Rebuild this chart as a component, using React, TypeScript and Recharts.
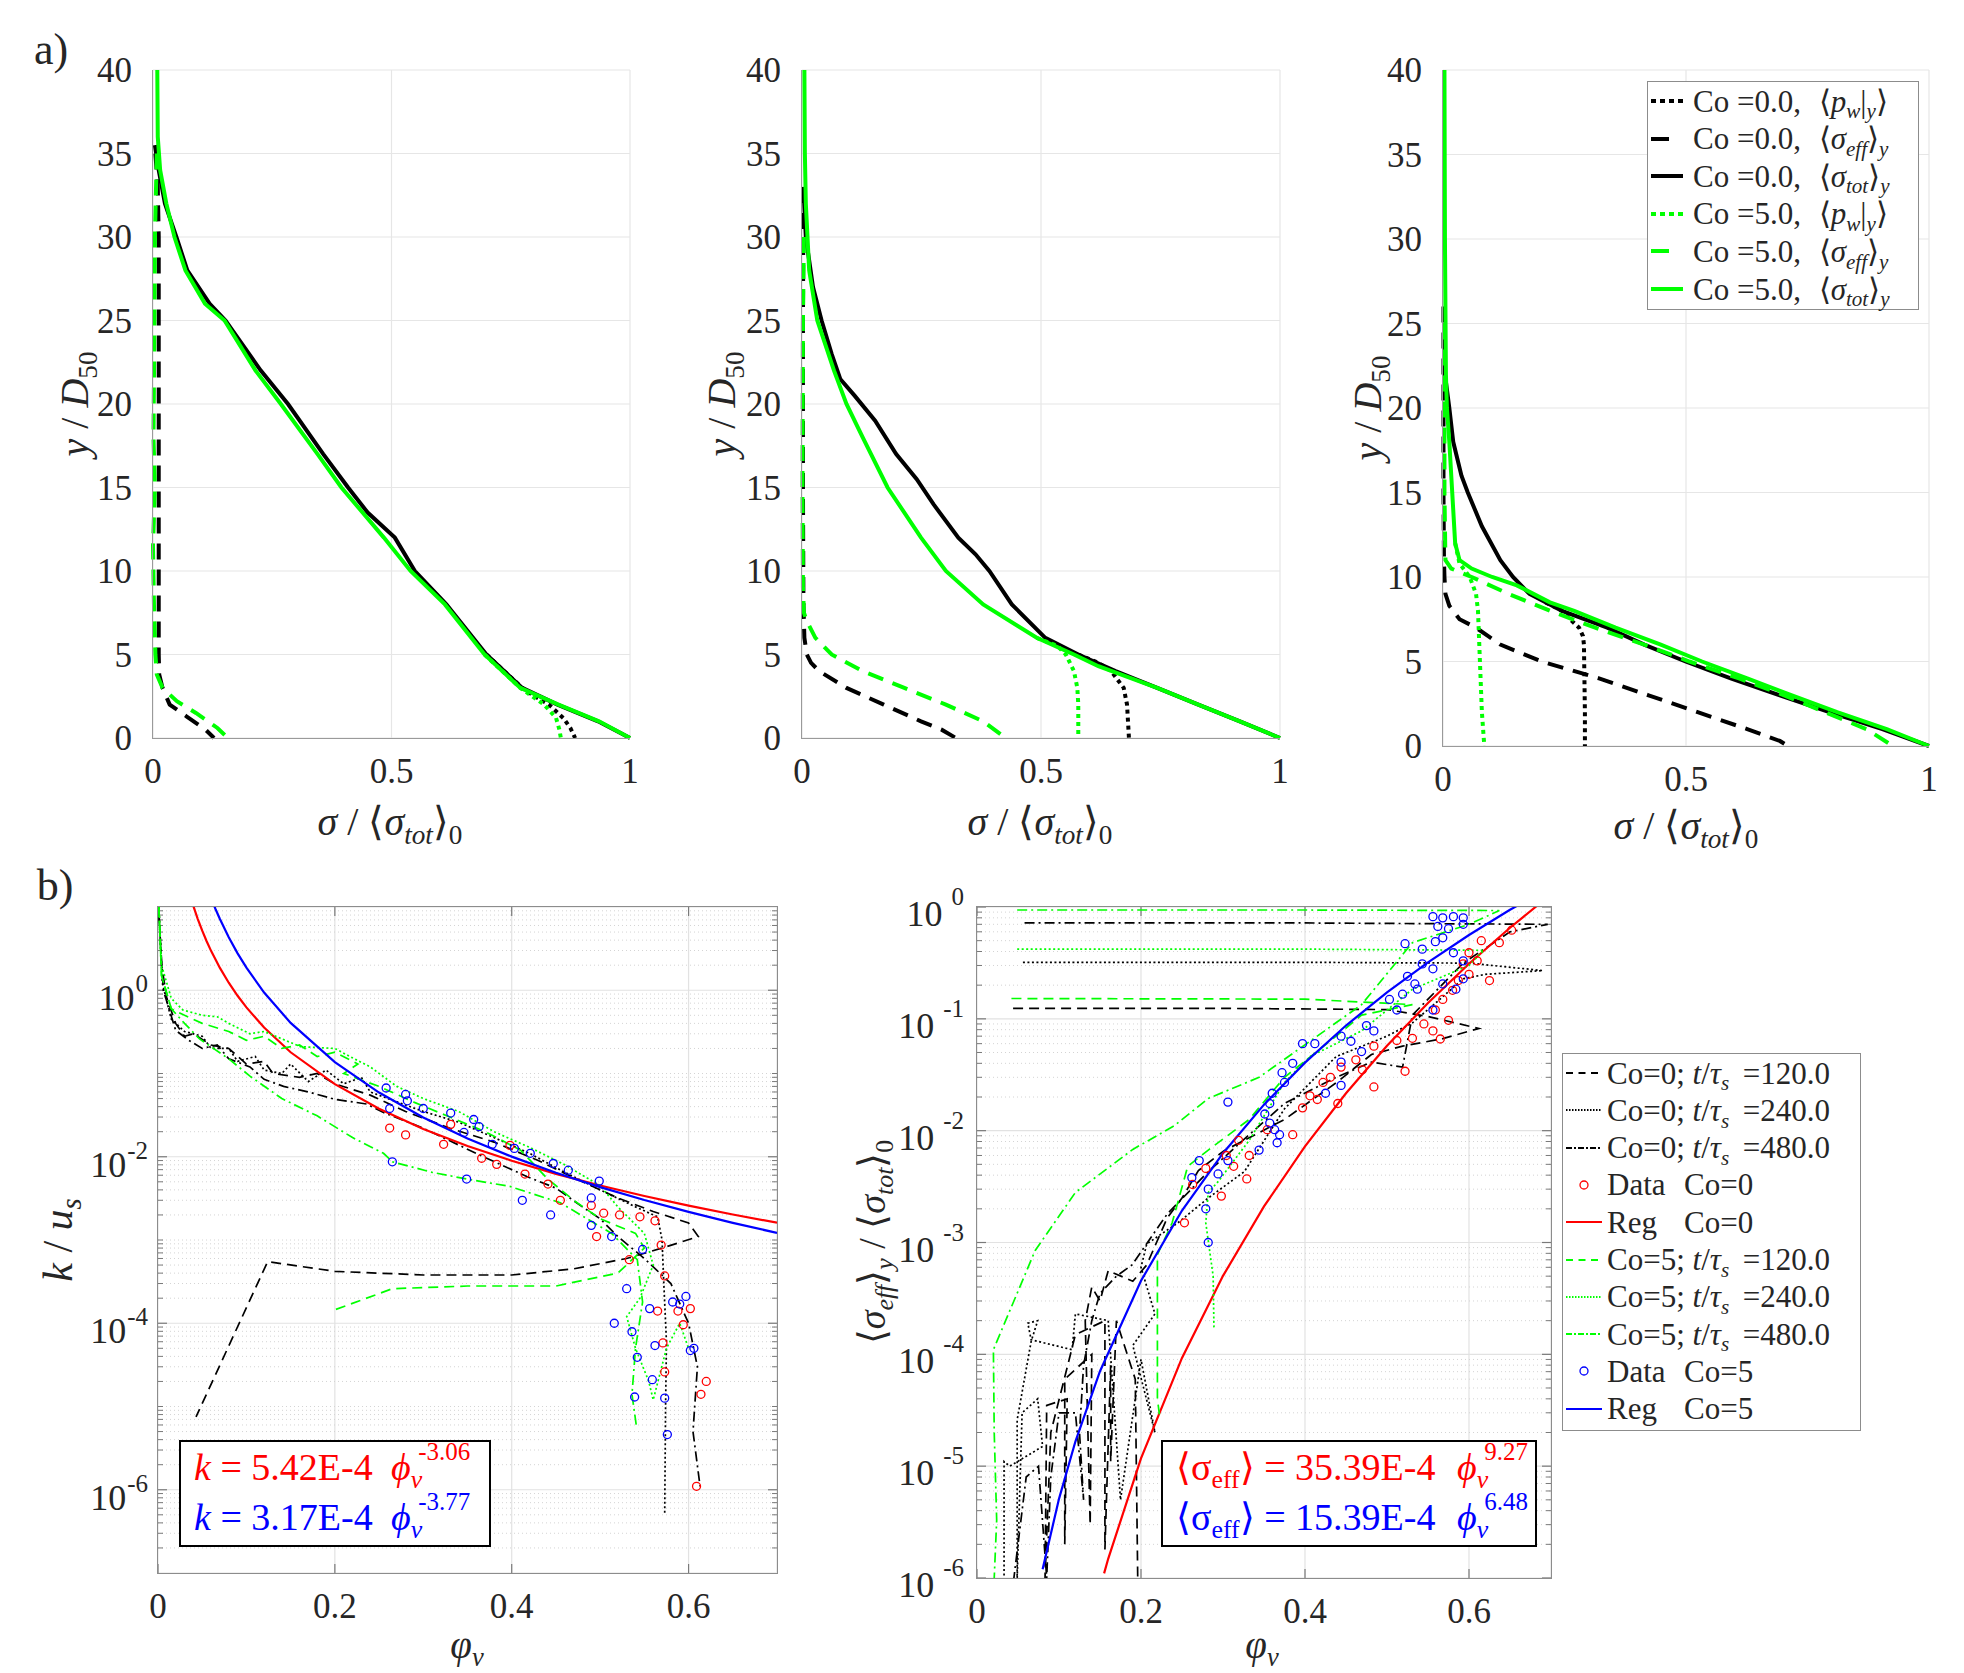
import React, { ReactNode } from "react";
import { LineChart, Line, XAxis, YAxis, CartesianGrid, ReferenceLine } from "recharts";

type Pt = [number, number];
type Box = { x: number; y: number; w: number; h: number };
type Curve = { pts: Pt[]; color: string; width: number; dash?: string; marker?: boolean };

const SERIF = '"Liberation Serif", "Times New Roman", serif';
const INK = "#262626";
const BLACK = "#000000";
const GREEN = "#00ff00";
const RED = "#ff0000";
const BLUE = "#0000ff";

// ---------- a) stress profiles, points are [sigma/<sigma_tot>_0, y/D50] ----------
const SIGMA_TICKS = [0, 0.5, 1];
const HEIGHT_TICKS = [0, 5, 10, 15, 20, 25, 30, 35, 40];

const a1Pw0: Pt[] = [[0.699, 5], [0.774, 3], [0.8, 2.5], [0.83, 2], [0.86, 1.2], [0.875, 0.6], [0.885, 0]];
const a1Eff0: Pt[] = [[0.005, 35], [0.01, 33], [0.012, 30], [0.012, 20], [0.012, 10], [0.012, 5], [0.013, 3.8], [0.02, 3], [0.035, 2], [0.07, 1.3], [0.11, 0.5], [0.128, 0]];
const a1Tot0: Pt[] = [[0.004, 35.5], [0.012, 34], [0.025, 32], [0.049, 30], [0.072, 28], [0.119, 26], [0.152, 25], [0.226, 22], [0.283, 20], [0.357, 17], [0.409, 15], [0.45, 13.5], [0.507, 12], [0.549, 10], [0.615, 8], [0.699, 5], [0.774, 3], [0.848, 2], [0.933, 1], [1.0, 0]];
const a1Pw5: Pt[] = [[0.695, 5], [0.77, 3], [0.795, 2.5], [0.82, 2], [0.845, 1.2], [0.852, 0.5], [0.855, 0]];
const a1Eff5: Pt[] = [[0.008, 35], [0.004, 30], [0.003, 25], [0.001, 18], [0.004, 15], [0.0, 11.5], [0.002, 8], [0.005, 5], [0.008, 3.8], [0.02, 3], [0.05, 2.2], [0.09, 1.5], [0.135, 0.6], [0.157, 0]];
const a1Tot5: Pt[] = [[0.009, 40], [0.01, 36], [0.015, 34], [0.028, 32], [0.045, 30], [0.068, 28], [0.109, 26], [0.15, 25], [0.215, 22], [0.268, 20], [0.345, 17], [0.395, 15], [0.484, 12], [0.54, 10], [0.612, 8], [0.695, 5], [0.77, 3], [0.85, 2], [0.935, 1], [1.0, 0]];

const a2Pw0: Pt[] = [[0.578, 5], [0.62, 4.5], [0.647, 4], [0.673, 3], [0.68, 2], [0.682, 1], [0.684, 0]];
const a2Eff0: Pt[] = [[0.003, 33], [0.002, 25], [0.002, 15], [0.003, 8], [0.005, 6], [0.01, 5], [0.019, 4.5], [0.036, 4], [0.093, 3], [0.171, 2], [0.249, 1], [0.292, 0.5], [0.322, 0]];
const a2Tot0: Pt[] = [[0.003, 33], [0.008, 30], [0.023, 27], [0.041, 25], [0.062, 23], [0.08, 21.5], [0.11, 20.5], [0.153, 19], [0.197, 17], [0.24, 15.5], [0.275, 14], [0.327, 12], [0.363, 11], [0.392, 10], [0.439, 8], [0.509, 6], [0.578, 5], [0.656, 4], [0.743, 3], [0.829, 2], [0.916, 1], [1.0, 0]];
const a2Pw5: Pt[] = [[0.491, 6], [0.535, 5.5], [0.552, 5], [0.569, 4], [0.576, 3], [0.578, 2], [0.578, 0]];
const a2Eff5: Pt[] = [[0.004, 30], [0.002, 25], [0.001, 15], [0.002, 9], [0.004, 7.5], [0.01, 7], [0.028, 6], [0.062, 5], [0.127, 4], [0.214, 3], [0.301, 2], [0.379, 1], [0.426, 0]];
const a2Tot5: Pt[] = [[0.005, 40], [0.006, 35], [0.008, 32], [0.015, 28], [0.032, 25], [0.067, 22], [0.093, 20], [0.127, 18], [0.179, 15], [0.249, 12], [0.301, 10], [0.379, 8], [0.491, 6], [0.569, 5], [0.62, 4.3], [0.743, 3], [0.829, 2], [0.916, 1], [1.0, 0]];

const a3Pw0: Pt[] = [[0.211, 8.5], [0.245, 8], [0.265, 7.4], [0.28, 7], [0.288, 6.5], [0.29, 6], [0.291, 4], [0.292, 2], [0.292, 0]];
const a3Eff0: Pt[] = [[0.001, 26], [0.001, 20], [0.001, 15], [0.002, 11], [0.003, 10], [0.005, 9], [0.013, 8.3], [0.034, 7.5], [0.068, 7], [0.093, 6.5], [0.118, 6], [0.203, 5], [0.321, 4], [0.423, 3], [0.524, 2], [0.626, 1], [0.693, 0.3], [0.71, 0]];
const a3Tot0: Pt[] = [[0.002, 25], [0.004, 22], [0.013, 20], [0.021, 18], [0.038, 16], [0.051, 15], [0.08, 13], [0.118, 11], [0.144, 10], [0.178, 9], [0.211, 8.5], [0.245, 8], [0.338, 7], [0.414, 6], [0.499, 5], [0.592, 4], [0.693, 3], [0.795, 2], [0.904, 1], [1.0, 0]];
const a3Pw5: Pt[] = [[0.025, 12], [0.034, 10.8], [0.055, 10], [0.068, 9], [0.072, 8], [0.076, 5], [0.08, 2], [0.085, 0]];
const a3Eff5: Pt[] = [[0.003, 25], [0.003, 20], [0.003, 15], [0.005, 11], [0.017, 10.5], [0.059, 10], [0.135, 9], [0.22, 8], [0.313, 7], [0.414, 6], [0.507, 5], [0.609, 4], [0.702, 3], [0.786, 2], [0.871, 1], [0.926, 0]];
const a3Tot5: Pt[] = [[0.003, 40], [0.004, 30], [0.006, 22], [0.008, 20], [0.013, 18], [0.019, 15], [0.025, 12], [0.034, 11], [0.059, 10.5], [0.101, 10], [0.152, 9.5], [0.186, 9], [0.22, 8.5], [0.27, 8], [0.355, 7], [0.448, 6], [0.533, 5], [0.626, 4], [0.718, 3], [0.811, 2], [0.913, 1], [1.0, 0]];

// ---------- b) left: k/u_s against phi_v ----------
const PHI_TICKS = [0, 0.2, 0.4, 0.6];
const K_TICKS = [1e-6, 1e-4, 1e-2, 1];

const kCo0t120: Pt[] = [[0.001, 9], [0.004, 2], [0.01, 0.8], [0.02, 0.4], [0.03, 0.28], [0.04, 0.3], [0.06, 0.22], [0.08, 0.2], [0.1, 0.13], [0.12, 0.14], [0.13, 0.1], [0.16, 0.09], [0.18, 0.1], [0.2, 0.075], [0.24, 0.055], [0.28, 0.035], [0.33, 0.022], [0.38, 0.015], [0.43, 0.009], [0.48, 0.005], [0.52, 0.0032], [0.56, 0.0022], [0.6, 0.0016], [0.611, 0.0011], [0.57, 0.0008], [0.53, 0.0006], [0.47, 0.00045], [0.4, 0.00038], [0.3, 0.00038], [0.2, 0.00042], [0.124, 0.00055], [0.043, 0.0000075]];
const kCo0t240: Pt[] = [[0.001, 10], [0.005, 1.2], [0.015, 0.45], [0.03, 0.32], [0.05, 0.28], [0.06, 0.2], [0.08, 0.2], [0.09, 0.14], [0.11, 0.16], [0.12, 0.11], [0.14, 0.1], [0.15, 0.13], [0.17, 0.08], [0.19, 0.11], [0.21, 0.075], [0.23, 0.09], [0.24, 0.06], [0.26, 0.05], [0.3, 0.035], [0.34, 0.026], [0.38, 0.017], [0.42, 0.011], [0.46, 0.0065], [0.5, 0.004], [0.54, 0.0025], [0.565, 0.0019], [0.57, 0.001], [0.572, 0.0003], [0.575, 0.00006], [0.574, 0.00001], [0.573, 0.0000005]];
const kCo0t480: Pt[] = [[0.001, 8], [0.006, 1], [0.02, 0.33], [0.035, 0.25], [0.05, 0.2], [0.067, 0.22], [0.08, 0.15], [0.104, 0.12], [0.12, 0.085], [0.142, 0.07], [0.17, 0.06], [0.2, 0.049], [0.236, 0.043], [0.255, 0.034], [0.3, 0.022], [0.368, 0.01], [0.417, 0.0058], [0.45, 0.0042], [0.48, 0.0025], [0.5, 0.0018], [0.52, 0.0011], [0.55, 0.0006], [0.58, 0.0003], [0.6, 0.0001], [0.61, 0.00003], [0.605, 0.000005], [0.613, 0.0000011]];
const kCo5t120: Pt[] = [[0.001, 10], [0.004, 1.5], [0.015, 0.6], [0.03, 0.5], [0.05, 0.4], [0.08, 0.32], [0.1, 0.25], [0.12, 0.28], [0.14, 0.2], [0.16, 0.22], [0.18, 0.16], [0.2, 0.18], [0.226, 0.13], [0.21, 0.1], [0.25, 0.07], [0.29, 0.045], [0.33, 0.03], [0.37, 0.02], [0.41, 0.012], [0.44, 0.0055], [0.47, 0.003], [0.5, 0.0018], [0.54, 0.0012], [0.55, 0.0008], [0.52, 0.0004], [0.45, 0.00028], [0.35, 0.00028], [0.265, 0.00026], [0.196, 0.00014]];
const kCo5t240: Pt[] = [[0.001, 10], [0.004, 2], [0.015, 0.8], [0.028, 0.58], [0.05, 0.5], [0.067, 0.48], [0.08, 0.4], [0.104, 0.3], [0.12, 0.32], [0.161, 0.21], [0.2, 0.2], [0.217, 0.16], [0.24, 0.12], [0.27, 0.07], [0.3, 0.05], [0.34, 0.035], [0.38, 0.02], [0.42, 0.013], [0.46, 0.008], [0.5, 0.0045], [0.52, 0.0025], [0.55, 0.0012], [0.56, 0.0005], [0.545, 0.0002], [0.53, 0.00012], [0.54, 0.00005], [0.555, 0.00002], [0.56, 0.000012], [0.575, 0.00005], [0.59, 0.0001], [0.6, 0.00005]];
const kCo5t480: Pt[] = [[0.001, 10], [0.004, 1.5], [0.015, 0.6], [0.03, 0.4], [0.047, 0.26], [0.08, 0.15], [0.104, 0.093], [0.14, 0.05], [0.18, 0.031], [0.22, 0.017], [0.255, 0.011], [0.265, 0.0087], [0.31, 0.0065], [0.349, 0.0054], [0.398, 0.0044], [0.455, 0.0028], [0.513, 0.0012], [0.542, 0.00058], [0.548, 0.00018], [0.54, 0.00005], [0.536, 0.000014], [0.541, 0.0000058]];
const kDataCo0: Pt[] = [[0.262, 0.0221], [0.28, 0.0183], [0.323, 0.0141], [0.366, 0.0096], [0.383, 0.0081], [0.415, 0.0062], [0.441, 0.0047], [0.455, 0.003], [0.49, 0.0026], [0.504, 0.0021], [0.522, 0.002], [0.545, 0.0019], [0.562, 0.0017], [0.569, 0.00087], [0.573, 0.00037], [0.565, 0.00014], [0.571, 0.000058], [0.573, 0.000026], [0.588, 0.00014], [0.602, 0.00015], [0.614, 0.000014], [0.609, 0.0000011], [0.62, 0.00002], [0.496, 0.0011], [0.533, 0.00058], [0.594, 0.000096], [0.331, 0.0245], [0.398, 0.0137]];
const kDataCo5: Pt[] = [[0.258, 0.067], [0.28, 0.056], [0.282, 0.047], [0.3, 0.038], [0.262, 0.038], [0.331, 0.0335], [0.357, 0.028], [0.363, 0.023], [0.346, 0.0196], [0.378, 0.0141], [0.403, 0.0126], [0.421, 0.011], [0.447, 0.0083], [0.464, 0.0069], [0.499, 0.0051], [0.412, 0.003], [0.444, 0.002], [0.49, 0.0015], [0.513, 0.0011], [0.548, 0.00077], [0.516, 0.0001], [0.536, 0.000079], [0.542, 0.000039], [0.539, 0.000013], [0.559, 0.000021], [0.562, 0.000054], [0.573, 0.0000126], [0.576, 0.0000046], [0.582, 0.00018], [0.597, 0.00021], [0.602, 0.000047], [0.556, 0.00015], [0.265, 0.0087], [0.349, 0.0054], [0.53, 0.00026], [0.49, 0.0032], [0.59, 0.00017], [0.606, 0.00005]];
// fits: k = 5.42E-4 phi^-3.06 (Co=0) and k = 3.17E-4 phi^-3.77 (Co=5)
const kRegCo0: Pt[] = [[0.04, 10.27], [0.045, 7.165], [0.05, 5.19], [0.055, 3.877], [0.06, 2.971], [0.07, 1.854], [0.08, 1.232], [0.09, 0.859], [0.1, 0.6224], [0.12, 0.3563], [0.15, 0.1799], [0.2, 0.07461], [0.25, 0.0377], [0.3, 0.02158], [0.35, 0.01346], [0.4, 0.008947], [0.45, 0.006236], [0.5, 0.004518], [0.55, 0.003375], [0.6, 0.002586], [0.65, 0.002025], [0.7, 0.001614]];
const kRegCo5: Pt[] = [[0.06, 12.81], [0.065, 9.47], [0.07, 7.164], [0.08, 4.329], [0.09, 2.777], [0.1, 1.867], [0.12, 0.9388], [0.15, 0.4048], [0.2, 0.1368], [0.25, 0.05899], [0.3, 0.02968], [0.35, 0.0166], [0.4, 0.01003], [0.45, 0.00643], [0.5, 0.004322], [0.55, 0.003018], [0.6, 0.002174], [0.65, 0.001608], [0.7, 0.001216]];

// ---------- b) right: <sigma_eff>_y/<sigma_tot>_0 against phi_v ----------
const S_TICKS = [1e-6, 1e-5, 1e-4, 1e-3, 1e-2, 1e-1, 1];

const sCo0t120: Pt[] = [[0.044, 0.124], [0.3, 0.124], [0.5, 0.121], [0.55, 0.105], [0.612, 0.082], [0.568, 0.0665], [0.519, 0.057], [0.481, 0.048], [0.438, 0.0268], [0.375, 0.0126], [0.326, 0.0082], [0.301, 0.0066], [0.27, 0.0044], [0.25, 0.0025], [0.232, 0.00166], [0.207, 0.00063], [0.19, 0.00045], [0.16, 0.00056], [0.15, 0.0003], [0.14, 0.0004], [0.132, 0.0002], [0.138, 0.000003], [0.14, 0.0001], [0.107, 0.00006], [0.107, 0.000002], [0.11, 0.00004], [0.085, 0.000035], [0.083, 0.000001], [0.09, 0.00002], [0.12, 0.00015], [0.156, 0.0002], [0.156, 0.0000018], [0.163, 0.00008], [0.163, 0.000011], [0.17, 0.0002], [0.193, 0.00006], [0.196, 0.000001]];
const sCo0t240: Pt[] = [[0.056, 0.32], [0.4, 0.32], [0.6, 0.315], [0.69, 0.27], [0.62, 0.25], [0.593, 0.228], [0.56, 0.14], [0.531, 0.092], [0.5, 0.07], [0.438, 0.046], [0.375, 0.0157], [0.326, 0.0043], [0.282, 0.0025], [0.245, 0.0015], [0.207, 0.00097], [0.2, 0.0006], [0.217, 0.00023], [0.19, 0.00012], [0.217, 0.00002], [0.2, 0.00009], [0.175, 0.000005], [0.16, 0.0002], [0.12, 0.00023], [0.116, 0.00011], [0.066, 0.000135], [0.062, 0.00019], [0.074, 0.0002], [0.066, 0.00013], [0.049, 0.000026], [0.049, 0.000001], [0.055, 0.00003], [0.074, 0.00004], [0.08, 0.000015], [0.04, 0.00001], [0.033, 0.000011], [0.033, 0.000001]];
const sCo0t480: Pt[] = [[0.058, 0.72], [0.4, 0.72], [0.696, 0.7], [0.65, 0.6], [0.593, 0.315], [0.531, 0.108], [0.519, 0.037], [0.481, 0.041], [0.438, 0.03], [0.375, 0.0175], [0.332, 0.0092], [0.282, 0.0043], [0.232, 0.0018], [0.189, 0.00063], [0.17, 0.0005], [0.15, 0.00035], [0.14, 0.0002], [0.13, 0.00008], [0.125, 0.00002], [0.13, 0.000005], [0.12, 0.00003], [0.1, 0.00003], [0.09, 0.000008], [0.085, 0.000001], [0.075, 0.00001], [0.06, 0.000008], [0.05, 0.000002], [0.045, 0.000001]];
const sCo5t120: Pt[] = [[0.042, 0.152], [0.4, 0.15], [0.531, 0.134], [0.469, 0.108], [0.438, 0.07], [0.375, 0.03], [0.332, 0.0126], [0.282, 0.0067], [0.257, 0.0048], [0.238, 0.0015], [0.22, 0.00078], [0.22, 0.00004], [0.223, 0.000027]];
const sCo5t240: Pt[] = [[0.049, 0.42], [0.4, 0.42], [0.618, 0.41], [0.6, 0.3], [0.531, 0.184], [0.469, 0.078], [0.406, 0.046], [0.375, 0.027], [0.332, 0.0082], [0.294, 0.0035], [0.282, 0.0028], [0.279, 0.0015], [0.288, 0.0005], [0.289, 0.000166]];
const sCo5t480: Pt[] = [[0.049, 0.94], [0.4, 0.94], [0.637, 0.93], [0.6, 0.7], [0.531, 0.48], [0.469, 0.134], [0.406, 0.063], [0.344, 0.03], [0.282, 0.0194], [0.24, 0.011], [0.19, 0.0068], [0.12, 0.0028], [0.071, 0.00085], [0.045, 0.0003], [0.02, 0.00011], [0.021, 0.00002], [0.024, 0.0000033], [0.021, 0.000001]];
const sDataCo0: Pt[] = [[0.652, 0.62], [0.637, 0.48], [0.615, 0.5], [0.6, 0.39], [0.593, 0.31], [0.587, 0.22], [0.568, 0.149], [0.575, 0.097], [0.559, 0.12], [0.556, 0.078], [0.531, 0.067], [0.565, 0.066], [0.512, 0.064], [0.484, 0.057], [0.462, 0.043], [0.444, 0.037], [0.431, 0.03], [0.422, 0.027], [0.406, 0.0205], [0.397, 0.016], [0.385, 0.0092], [0.354, 0.0102], [0.332, 0.006], [0.329, 0.0037], [0.313, 0.0048], [0.304, 0.006], [0.319, 0.0082], [0.298, 0.0026], [0.263, 0.0033], [0.253, 0.0015], [0.279, 0.0046], [0.484, 0.0246], [0.522, 0.034], [0.6, 0.25], [0.58, 0.18], [0.545, 0.09], [0.47, 0.035], [0.415, 0.019], [0.44, 0.0175], [0.61, 0.33], [0.625, 0.22]];
const sDataCo5: Pt[] = [[0.556, 0.82], [0.568, 0.8], [0.581, 0.82], [0.593, 0.8], [0.562, 0.67], [0.575, 0.64], [0.593, 0.7], [0.522, 0.47], [0.559, 0.49], [0.568, 0.53], [0.543, 0.42], [0.581, 0.39], [0.593, 0.33], [0.543, 0.31], [0.556, 0.28], [0.525, 0.24], [0.534, 0.205], [0.537, 0.184], [0.519, 0.166], [0.503, 0.149], [0.512, 0.12], [0.556, 0.12], [0.568, 0.205], [0.584, 0.184], [0.593, 0.228], [0.475, 0.087], [0.484, 0.078], [0.456, 0.063], [0.469, 0.051], [0.444, 0.07], [0.412, 0.06], [0.444, 0.041], [0.397, 0.06], [0.385, 0.04], [0.372, 0.033], [0.375, 0.027], [0.36, 0.0216], [0.357, 0.0175], [0.351, 0.0141], [0.357, 0.0117], [0.363, 0.0102], [0.369, 0.0092], [0.366, 0.0078], [0.344, 0.0067], [0.306, 0.0054], [0.294, 0.0041], [0.271, 0.0054], [0.262, 0.0038], [0.282, 0.003], [0.279, 0.002], [0.282, 0.001], [0.425, 0.0216], [0.444, 0.0254], [0.306, 0.018]];
const sRegCo0: Pt[] = [[0.155, 0.0000011], [0.16, 0.000001485], [0.2, 0.00001175], [0.25, 0.0000929], [0.3, 0.000503], [0.35, 0.0021], [0.4, 0.00724], [0.45, 0.02159], [0.5, 0.05733], [0.55, 0.1388], [0.6, 0.3108], [0.65, 0.6523], [0.7, 1.297]];
const sRegCo5: Pt[] = [[0.08, 0.0000012], [0.1, 0.0000051], [0.12, 0.0000166], [0.15, 0.0000706], [0.2, 0.000455], [0.25, 0.00193], [0.3, 0.00629], [0.35, 0.01709], [0.4, 0.04059], [0.45, 0.0871], [0.5, 0.1724], [0.55, 0.3198], [0.6, 0.5619], [0.65, 0.9436], [0.7, 1.525]];

// plot-area rectangles on the page
const A1: Box = { x: 153, y: 70, w: 477, h: 668 };
const A2: Box = { x: 802, y: 70, w: 478, h: 668 };
const A3: Box = { x: 1443, y: 70, w: 486, h: 676 };
const B1: Box = { x: 158, y: 907, w: 619, h: 666 };
const B2: Box = { x: 977, y: 907, w: 574, h: 671 };

const Y_W = 100;
const X_H = 80;
const PAD_T = 34;
const PAD_R = 8;

// log-grid minor lines (2..9 within each decade, plus unlabeled decades)
const STEPS = [2, 3, 4, 5, 6, 7, 8, 9];
const minorLines = (from: number, to: number, extra: number[]) =>
  Array.from({ length: to - from }, (_, i) => from + i)
    .flatMap((e) => STEPS.map((m) => m * Math.pow(10, e)))
    .concat(extra);
const K_MINOR = minorLines(-7, 1, [1e-5, 1e-3, 1e-1]);
const S_MINOR = minorLines(-6, 0, []);

const toRows = (pts: Pt[]) => pts.map(([x, y]) => ({ x, y }));

// line styles
const THICK = 4;
const THIN = 1.7;
const A_DOT = "4 4";
const A_DASH = "16 10";
const B_DASH = "10 6";
const B_DOT = "2 2.5";
const B_DASHDOT = "10 4 2 4";

const profile = (pw0: Pt[], eff0: Pt[], tot0: Pt[], pw5: Pt[], eff5: Pt[], tot5: Pt[]): Curve[] => [
  { pts: pw0, color: BLACK, width: THICK, dash: A_DOT },
  { pts: eff0, color: BLACK, width: THICK, dash: A_DASH },
  { pts: tot0, color: BLACK, width: THICK },
  { pts: pw5, color: GREEN, width: THICK, dash: A_DOT },
  { pts: eff5, color: GREEN, width: THICK, dash: A_DASH },
  { pts: tot5, color: GREEN, width: THICK },
];

const kCurves: Curve[] = [
  { pts: kCo0t120, color: BLACK, width: THIN, dash: B_DASH },
  { pts: kCo0t240, color: BLACK, width: THIN, dash: B_DOT },
  { pts: kCo0t480, color: BLACK, width: THIN, dash: B_DASHDOT },
  { pts: kDataCo0, color: RED, width: 1.3, marker: true },
  { pts: kRegCo0, color: RED, width: 2.2 },
  { pts: kCo5t120, color: GREEN, width: THIN, dash: B_DASH },
  { pts: kCo5t240, color: GREEN, width: THIN, dash: B_DOT },
  { pts: kCo5t480, color: GREEN, width: THIN, dash: B_DASHDOT },
  { pts: kDataCo5, color: BLUE, width: 1.3, marker: true },
  { pts: kRegCo5, color: BLUE, width: 2.2 },
];

const sCurves: Curve[] = [
  { pts: sCo0t120, color: BLACK, width: THIN, dash: B_DASH },
  { pts: sCo0t240, color: BLACK, width: THIN, dash: B_DOT },
  { pts: sCo0t480, color: BLACK, width: THIN, dash: B_DASHDOT },
  { pts: sDataCo0, color: RED, width: 1.3, marker: true },
  { pts: sRegCo0, color: RED, width: 2.2 },
  { pts: sCo5t120, color: GREEN, width: THIN, dash: B_DASH },
  { pts: sCo5t240, color: GREEN, width: THIN, dash: B_DOT },
  { pts: sCo5t480, color: GREEN, width: THIN, dash: B_DASHDOT },
  { pts: sDataCo5, color: BLUE, width: 1.3, marker: true },
  { pts: sRegCo5, color: BLUE, width: 2.2 },
];

const renderCurve = (c: Curve, i: number) => (
  <Line
    key={i}
    data={toRows(c.pts)}
    dataKey="y"
    type="linear"
    stroke={c.marker ? "none" : c.color}
    strokeWidth={c.width}
    strokeDasharray={c.dash}
    dot={c.marker ? { r: 4, stroke: c.color, strokeWidth: c.width, fill: "none" } : false}
    activeDot={false}
    isAnimationActive={false}
  />
);

const fontStyle = { fontFamily: SERIF };

// plain numeric tick labels
function XTick(props: any) {
  const { x, y, payload } = props;
  return (
    <text x={x} y={y + 25} textAnchor="middle" fontSize={35} fill={INK} style={fontStyle}>
      {payload.value}
    </text>
  );
}
function YTick(props: any) {
  const { x, y, payload } = props;
  return (
    <text x={x} y={y + 12} textAnchor="end" fontSize={35} fill={INK} style={fontStyle}>
      {payload.value}
    </text>
  );
}

// 10^n labels for the log axes
function PowTick(props: any) {
  const { x, y, payload, spaced } = props;
  const e = Math.round(Math.log10(payload.value));
  return (
    <text x={x} y={y + (spaced ? 19 : 20)} textAnchor="end" fontSize={36} fill={INK} style={fontStyle}>
      10
      <tspan dx={spaced ? 9 : 1} dy={spaced ? -21 : -18} fontSize={25}>
        {e}
      </tspan>
    </text>
  );
}

const chartFrame = (b: Box) => ({
  left: b.x - Y_W,
  top: b.y - PAD_T,
  width: Y_W + b.w + PAD_R,
  height: PAD_T + b.h + X_H,
});

function ProfilePanel({ box, curves }: { box: Box; curves: Curve[] }) {
  const f = chartFrame(box);
  return (
    <>
      <div style={{ position: "absolute", left: f.left, top: f.top }}>
        <LineChart width={f.width} height={f.height} margin={{ top: PAD_T, right: PAD_R, bottom: 0, left: 0 }}>
          <CartesianGrid stroke="#e6e6e6" strokeWidth={1.2} />
          <XAxis type="number" dataKey="x" domain={[0, 1]} ticks={SIGMA_TICKS} interval={0} height={X_H}
            axisLine={false} tickLine={false} tickSize={0} tickMargin={20} tick={(p: any) => <XTick {...p} />} />
          <YAxis type="number" dataKey="y" domain={[0, 40]} ticks={HEIGHT_TICKS} interval={0} width={Y_W}
            axisLine={false} tickLine={false} tickSize={0} tickMargin={21} tick={(p: any) => <YTick {...p} />} />
          {curves.map(renderCurve)}
        </LineChart>
      </div>
      <div
        style={{
          position: "absolute", left: box.x - 1, top: box.y, width: box.w + 1, height: box.h + 1,
          boxSizing: "border-box", borderLeft: "1.5px solid #9a9a9a", borderBottom: "1.5px solid #9a9a9a",
          pointerEvents: "none",
        }}
      />
    </>
  );
}

const TICK_STROKE = "#7a7a7a";

function LogPanel(props: { box: Box; domain: [number, number]; ticks: number[]; minor: number[]; curves: Curve[]; spaced: boolean }) {
  const { box, domain, ticks, minor, curves, spaced } = props;
  const f = chartFrame(box);
  const [lo, hi] = domain;
  // inward tick lengths expressed in data units
  const xMinor = (0.7 / box.w) * 5;
  const xMajor = (0.7 / box.w) * 9;
  const decadePx = box.h / Math.log10(hi / lo);
  const yTick = Math.pow(10, 9 / decadePx);
  return (
    <>
      <div style={{ position: "absolute", left: f.left, top: f.top }}>
        <LineChart width={f.width} height={f.height} margin={{ top: PAD_T, right: PAD_R, bottom: 0, left: 0 }}>
          <CartesianGrid stroke="#e2e2e2" strokeWidth={1.2} />
          {minor.map((v) => (
            <ReferenceLine key={`g${v}`} y={v} stroke="#d4d4d4" strokeDasharray="1 3" strokeWidth={1} />
          ))}
          {minor.map((v) => (
            <ReferenceLine key={`l${v}`} segment={[{ x: 0, y: v }, { x: xMinor, y: v }]} stroke={TICK_STROKE} strokeWidth={1} />
          ))}
          {minor.map((v) => (
            <ReferenceLine key={`r${v}`} segment={[{ x: 0.7 - xMinor, y: v }, { x: 0.7, y: v }]} stroke={TICK_STROKE} strokeWidth={1} />
          ))}
          {ticks.map((v) => (
            <ReferenceLine key={`L${v}`} segment={[{ x: 0, y: v }, { x: xMajor, y: v }]} stroke={TICK_STROKE} strokeWidth={1.2} />
          ))}
          {ticks.map((v) => (
            <ReferenceLine key={`R${v}`} segment={[{ x: 0.7 - xMajor, y: v }, { x: 0.7, y: v }]} stroke={TICK_STROKE} strokeWidth={1.2} />
          ))}
          {PHI_TICKS.map((v) => (
            <ReferenceLine key={`B${v}`} segment={[{ x: v, y: lo }, { x: v, y: lo * yTick }]} stroke={TICK_STROKE} strokeWidth={1.2} />
          ))}
          {PHI_TICKS.map((v) => (
            <ReferenceLine key={`T${v}`} segment={[{ x: v, y: hi / yTick }, { x: v, y: hi }]} stroke={TICK_STROKE} strokeWidth={1.2} />
          ))}
          <XAxis type="number" dataKey="x" domain={[0, 0.7]} ticks={PHI_TICKS} interval={0} height={X_H}
            axisLine={false} tickLine={false} tickSize={0} tickMargin={20} tick={(p: any) => <XTick {...p} />} allowDataOverflow />
          <YAxis type="number" dataKey="y" scale="log" domain={domain} ticks={ticks} interval={0} width={Y_W}
            axisLine={false} tickLine={false} tickSize={0} tickMargin={spaced ? 13 : 10}
            tick={(p: any) => <PowTick {...p} spaced={spaced} />} allowDataOverflow />
          {curves.map(renderCurve)}
        </LineChart>
      </div>
      <div
        style={{
          position: "absolute", left: box.x - 1, top: box.y - 1, width: box.w + 2, height: box.h + 2,
          boxSizing: "border-box", border: "1.5px solid #8c8c8c", pointerEvents: "none",
        }}
      />
    </>
  );
}

const I = ({ children }: { children: ReactNode }) => <span style={{ fontStyle: "italic" }}>{children}</span>;
const Sub = ({ children }: { children: ReactNode }) => (
  <span style={{ fontSize: "0.68em", position: "relative", top: "0.32em" }}>{children}</span>
);

function Label({ x, y, size = 40, rotate = false, children }: { x: number; y: number; size?: number; rotate?: boolean; children: ReactNode }) {
  return (
    <div
      style={{
        position: "absolute", left: x, top: y, fontSize: size, whiteSpace: "nowrap", lineHeight: 1,
        transform: `translate(-50%, -50%)${rotate ? " rotate(-90deg)" : ""}`,
      }}
    >
      {children}
    </div>
  );
}

const sigmaLabel = (
  <>
    <I>σ</I> / ⟨<I>σ</I><Sub><I>tot</I></Sub>⟩<Sub>0</Sub>
  </>
);
const heightLabel = (
  <>
    <I>y</I> / <I>D</I><Sub>50</Sub>
  </>
);
const phiLabel = (
  <>
    <I>φ</I><Sub><I>v</I></Sub>
  </>
);

type LegendRow = { label: ReactNode; color: string; dash?: string; marker?: boolean; width: number };

const profileLegend: LegendRow[] = [
  { label: <>Co =0.0, <span style={{ marginLeft: 10 }}>⟨<I>p</I><Sub><I>w</I></Sub>|<Sub><I>y</I></Sub>⟩</span></>, color: BLACK, dash: "5 4", width: 4 },
  { label: <>Co =0.0, <span style={{ marginLeft: 10 }}>⟨<I>σ</I><Sub><I>eff</I></Sub>⟩<Sub><I>y</I></Sub></span></>, color: BLACK, dash: "18 16", width: 4 },
  { label: <>Co =0.0, <span style={{ marginLeft: 10 }}>⟨<I>σ</I><Sub><I>tot</I></Sub>⟩<Sub><I>y</I></Sub></span></>, color: BLACK, width: 4 },
  { label: <>Co =5.0, <span style={{ marginLeft: 10 }}>⟨<I>p</I><Sub><I>w</I></Sub>|<Sub><I>y</I></Sub>⟩</span></>, color: GREEN, dash: "5 4", width: 4 },
  { label: <>Co =5.0, <span style={{ marginLeft: 10 }}>⟨<I>σ</I><Sub><I>eff</I></Sub>⟩<Sub><I>y</I></Sub></span></>, color: GREEN, dash: "18 16", width: 4 },
  { label: <>Co =5.0, <span style={{ marginLeft: 10 }}>⟨<I>σ</I><Sub><I>tot</I></Sub>⟩<Sub><I>y</I></Sub></span></>, color: GREEN, width: 4 },
];

const timeLabel = (co: string, t: string) => (
  <>
    Co={co}; <I>t</I>/<I>τ</I><Sub><I>s</I></Sub> <span style={{ marginLeft: 6 }}>={t}</span>
  </>
);
const tagLabel = (a: string, b: string) => (
  <>
    <span style={{ display: "inline-block", width: 77 }}>{a}</span>
    {b}
  </>
);

const seriesLegend: LegendRow[] = [
  { label: timeLabel("0", "120.0"), color: BLACK, dash: "7 5.5", width: 2 },
  { label: timeLabel("0", "240.0"), color: BLACK, dash: "1.5 1.5", width: 2 },
  { label: timeLabel("0", "480.0"), color: BLACK, dash: "6 2 2 2", width: 2 },
  { label: tagLabel("Data", "Co=0"), color: RED, marker: true, width: 1.3 },
  { label: tagLabel("Reg", "Co=0"), color: RED, width: 2 },
  { label: timeLabel("5", "120.0"), color: GREEN, dash: "7 5.5", width: 2 },
  { label: timeLabel("5", "240.0"), color: GREEN, dash: "1.5 1.5", width: 2 },
  { label: timeLabel("5", "480.0"), color: GREEN, dash: "6 2 2 2", width: 2 },
  { label: tagLabel("Data", "Co=5"), color: BLUE, marker: true, width: 1.3 },
  { label: tagLabel("Reg", "Co=5"), color: BLUE, width: 2 },
];

function LegendBox(props: { x: number; y: number; w: number; h: number; first: number; pitch: number; sample: number; textX: number; size: number; rows: LegendRow[] }) {
  const { x, y, w, h, first, pitch, sample, textX, size, rows } = props;
  return (
    <div style={{ position: "absolute", left: x, top: y, width: w, height: h, boxSizing: "border-box", border: "1.5px solid #8c8c8c", background: "#fff" }}>
      {rows.map((r, i) => (
        <div key={i} style={{ position: "absolute", left: 0, top: first + i * pitch - 20, height: 40, width: w, display: "flex", alignItems: "center" }}>
          <svg width={sample} height={12} style={{ position: "absolute", left: 3, top: 14 }}>
            {r.marker ? (
              <circle cx={sample / 2} cy={6} r={4} stroke={r.color} strokeWidth={r.width} fill="none" />
            ) : (
              <line x1={0} x2={sample} y1={6} y2={6} stroke={r.color} strokeWidth={r.width} strokeDasharray={r.dash} />
            )}
          </svg>
          <div style={{ position: "absolute", left: textX, fontSize: size, whiteSpace: "nowrap", lineHeight: 1 }}>{r.label}</div>
        </div>
      ))}
    </div>
  );
}

function FitBox(props: { x: number; w: number; phiX: number; lines: { color: string; lead: ReactNode; exp: string }[] }) {
  const { x, w, phiX, lines } = props;
  return (
    <div style={{ position: "absolute", left: x, top: 1440, width: w, height: 107, boxSizing: "border-box", border: "2px solid #000", background: "#fff" }}>
      {lines.map((l, i) => (
        <React.Fragment key={i}>
          <div style={{ position: "absolute", left: 13, top: 6 + i * 50, color: l.color, fontSize: 38, whiteSpace: "nowrap", lineHeight: 1 }}>
            {l.lead}
          </div>
          <div style={{ position: "absolute", left: phiX, top: 6 + i * 50, color: l.color, fontSize: 38, whiteSpace: "nowrap", lineHeight: 1 }}>
            <I>ϕ</I><Sub><I>v</I></Sub>
            <span style={{ fontSize: 25, position: "relative", top: -20, marginLeft: -4 }}>{l.exp}</span>
          </div>
        </React.Fragment>
      ))}
    </div>
  );
}

const effBracket = (
  <>
    ⟨σ<Sub>eff</Sub>⟩
  </>
);

export default function App() {
  return (
    <div
      style={{
        position: "absolute", left: 0, top: 0, width: 1964, height: 1673, background: "#fff",
        overflow: "hidden", fontFamily: SERIF, color: INK,
      }}
    >
      <Label x={51} y={50} size={44}>a)</Label>
      <Label x={55} y={886} size={44}>b)</Label>

      <ProfilePanel box={A1} curves={profile(a1Pw0, a1Eff0, a1Tot0, a1Pw5, a1Eff5, a1Tot5)} />
      <ProfilePanel box={A2} curves={profile(a2Pw0, a2Eff0, a2Tot0, a2Pw5, a2Eff5, a2Tot5)} />
      <ProfilePanel box={A3} curves={profile(a3Pw0, a3Eff0, a3Tot0, a3Pw5, a3Eff5, a3Tot5)} />

      <Label x={75} y={404} rotate>{heightLabel}</Label>
      <Label x={722} y={404} rotate>{heightLabel}</Label>
      <Label x={1368} y={408} rotate>{heightLabel}</Label>
      <Label x={390} y={822}>{sigmaLabel}</Label>
      <Label x={1040} y={822}>{sigmaLabel}</Label>
      <Label x={1686} y={826}>{sigmaLabel}</Label>

      <LegendBox x={1647} y={81} w={272} h={229} first={19} pitch={37.6} sample={32} textX={45} size={31} rows={profileLegend} />

      <LogPanel box={B1} domain={[1e-7, 10]} ticks={K_TICKS} minor={K_MINOR} curves={kCurves} spaced={false} />
      <LogPanel box={B2} domain={[1e-6, 1]} ticks={S_TICKS} minor={S_MINOR} curves={sCurves} spaced />

      <Label x={58} y={1240} size={42} rotate>
        <I>k</I> / <I>u</I><Sub><I>s</I></Sub>
      </Label>
      <Label x={467} y={1644} size={39}>{phiLabel}</Label>
      <Label x={872} y={1242} size={38} rotate>
        ⟨<I>σ</I><Sub><I>eff</I></Sub>⟩<Sub><I>y</I></Sub> / ⟨<I>σ</I><Sub><I>tot</I></Sub>⟩<Sub>0</Sub>
      </Label>
      <Label x={1262} y={1644} size={39}>{phiLabel}</Label>

      <FitBox
        x={179}
        w={312}
        phiX={210}
        lines={[
          { color: RED, lead: <><I>k</I> = 5.42E-4</>, exp: "-3.06" },
          { color: BLUE, lead: <><I>k</I> = 3.17E-4</>, exp: "-3.77" },
        ]}
      />
      <FitBox
        x={1161}
        w={376}
        phiX={294}
        lines={[
          { color: RED, lead: <>{effBracket} = 35.39E-4</>, exp: "9.27" },
          { color: BLUE, lead: <>{effBracket} = 15.39E-4</>, exp: "6.48" },
        ]}
      />

      <LegendBox x={1562} y={1053} w={299} h={378} first={19} pitch={37.3} sample={36} textX={44} size={31} rows={seriesLegend} />
    </div>
  );
}
